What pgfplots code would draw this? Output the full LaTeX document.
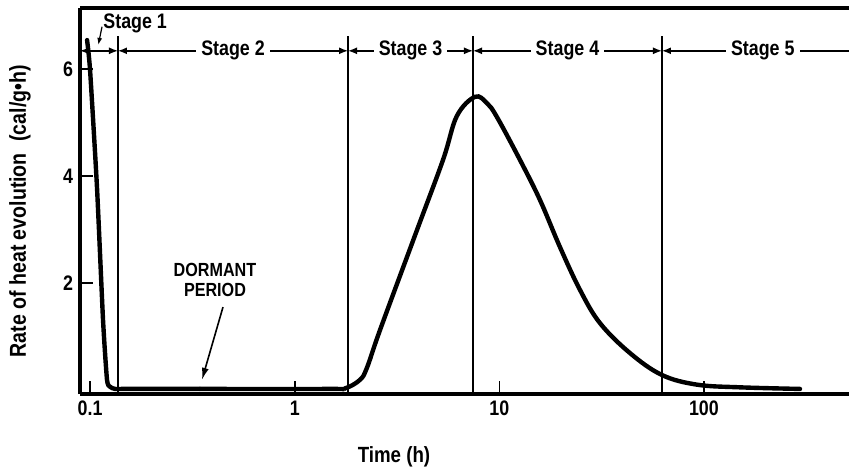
\documentclass[border=0pt]{standalone}
\usepackage{fontspec}
\setmainfont{Liberation Sans}[FakeStretch=0.85]
\usepackage{pgfplots}
\pgfplotsset{compat=1.18}
\usetikzlibrary{arrows.meta}
\begin{document}
\begin{tikzpicture}[font=\bfseries]
\begin{axis}[
  scale only axis, width=384.5pt, height=193pt,
  xmode=log, xmin=0.0892, xmax=512,
  ymin=-0.075, ymax=7.14,
  axis lines=left,
  axis line style={-, line width=1.6pt},
  y axis line style={line width=2pt},
  tick align=inside,
  major tick length=6.5pt,
  tick style={line width=0.8pt, black},
  xtick={0.1,1,10,100}, xticklabels={0.1,1,10,100},
  ytick={2,4,6}, yticklabels={2,4,6},
  xminorticks=false, yminorticks=false,
  /pgf/number format/assume math mode=true,
  tick label style={font=\bfseries\fontsize{10.5}{12}\selectfont},
  clip=false,
]
\addplot[line width=2.2pt, smooth, tension=0.35, line cap=round] coordinates {
(0.0966,6.54) (0.0999,5.98) (0.1080,3.79) (0.1156,1.31) (0.1209,0.19)
(0.1251,0.06) (0.1323,0.02) (0.1479,0.02) (0.344,0.02)
};
\addplot[line width=2.2pt, smooth, tension=0.6, line cap=round] coordinates {
(0.344,0.02) (1.487,0.02) (1.761,0.03)
(2.084,0.19) (2.256,0.42) (2.611,1.12) (3.872,2.89) (5.305,4.30)
(6.20,5.12) (7.605,5.48) (8.708,5.36) (9.743,5.10)
(12.62,4.30) (15.81,3.55) (19.80,2.67) (24.80,1.87) (31.05,1.25)
(43.53,0.69) (62.39,0.28) (92.5,0.10) (150,0.05) (295,0.02)
};
% top border
\draw[line width=1.6pt] (rel axis cs:0,1) -- (rel axis cs:1,1);
% stage boundaries
\draw[line width=1pt] (axis cs:0.1368,-0.075) -- (axis cs:0.1368,6.62);
\draw[line width=1pt] (axis cs:1.822,-0.075) -- (axis cs:1.822,6.62);
\draw[line width=1pt] (axis cs:7.437,-0.075) -- (axis cs:7.437,6.62);
\draw[line width=1pt] (axis cs:62.39,-0.075) -- (axis cs:62.39,6.62);
% stage brackets
\tikzset{stg/.style={line width=0.7pt, {Latex[length=4.5pt,width=3.5pt]}-{Latex[length=4.5pt,width=3.5pt]}},
         stgl/.style={fill=white, inner sep=2.5pt, font=\bfseries\fontsize{10.5}{12}\selectfont}}
\draw[stg] (axis cs:0.0892,6.34) -- (axis cs:0.1368,6.34);
\draw[stg] (axis cs:0.1368,6.34) -- (axis cs:1.822,6.34) node[midway, stgl] {Stage 2};
\draw[stg] (axis cs:1.822,6.34) -- (axis cs:7.437,6.34) node[midway, stgl] {Stage 3};
\draw[stg] (axis cs:7.437,6.34) -- (axis cs:62.39,6.34) node[midway, stgl] {Stage 4};
\draw[line width=0.7pt, {Latex[length=4.5pt,width=3.5pt]}-] (axis cs:62.39,6.34) -- (axis cs:512,6.34);
\node[stgl] at (axis cs:194,6.34) {Stage 5};
\node[font=\bfseries\fontsize{10.5}{12}\selectfont] at (axis cs:0.166,6.86) {Stage 1};
\draw[line width=0.6pt, -{Latex[length=3.5pt,width=2.5pt]}] (axis cs:0.1143,6.79) -- (axis cs:0.1096,6.45);
% dormant period
\node[align=center, font=\bfseries\fontsize{9.5}{10}\selectfont] at (axis cs:0.4076,2.06) {DORMANT\\PERIOD};
\draw[line width=0.8pt, -{Latex[length=6pt,width=3.5pt]}] (axis cs:0.446,1.55) -- (axis cs:0.352,0.19);
% axis labels
\node[font=\bfseries\fontsize{11}{13}\selectfont] at (axis cs:3.056,-1.25) {Time (h)};
\node[rotate=90, font=\bfseries\fontsize{11.5}{13}\selectfont] at ([xshift=-30pt]axis cs:0.0892,3.34) {Rate of heat evolution\enspace(cal/g\textbullet h)};
\end{axis}
\pgfresetboundingbox
\path[use as bounding box] ([xshift=-40pt,yshift=-37pt]current axis.south west) rectangle ([yshift=4pt]current axis.north east);
\end{tikzpicture}
\end{document}
